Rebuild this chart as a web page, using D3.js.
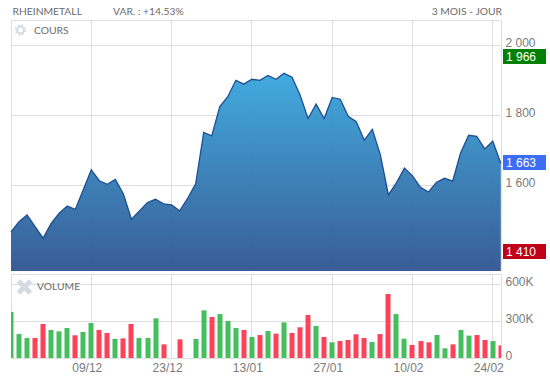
<!DOCTYPE html>
<html lang="fr">
<head>
<meta charset="UTF-8">
<title>Rheinmetall</title>
<script src="https://d3js.org/d3.v7.min.js"></script>
<style>
    html, body { margin: 0; padding: 0; background: #fff; }
    svg { display: block; }
    .head { font: 10.3px Lato, sans-serif; fill: #6b6b6b; }
    .tick text, .axis-label { font: 12px "Liberation Sans", Arial, sans-serif; fill: #7a7a7a; }
    .tag { font: 12px "Liberation Sans", Arial, sans-serif; fill: #fff; }
    .grid line, .frame { stroke: #dedede; stroke-width: 1; fill: none; }
    .domain { display: none; }
</style>
</head>
<body>
<div id="chart"></div>
<script>
// values
const closes = [1467, 1496, 1515, 1482, 1449, 1491, 1520, 1541, 1531, 1587,
    1644, 1613, 1603, 1617, 1575, 1503, 1527, 1551, 1560, 1547,
    1544, 1527, 1563, 1604, 1751, 1741, 1825, 1853, 1900, 1889,
    1903, 1900, 1914, 1903, 1920, 1909, 1858, 1791, 1832, 1791,
    1851, 1846, 1797, 1782, 1729, 1760, 1687, 1573, 1607, 1649,
    1627, 1594, 1581, 1609, 1620, 1612, 1693, 1743, 1740, 1704,
    1726, 1663];
const volumes = [375, 195, 163, 163, 277, 228, 217, 244, 185, 212,
    285, 228, 204, 155, 160, 277, 163, 163, 323, 111,
    null, 152, null, 155, 388, 334, 358, 301, 244, 228,
    171, 187, 220, 198, 290, 204, 250, 350, 261, 171,
    128, 138, 147, 193, 163, 130, 195, 521, 358, 157,
    106, 138, 128, 187, 79, 111, 228, 182, 187, 147,
    138, 103];
// g = hausse, r = baisse
const volumeColors = ['g','g','g','r','r','g','g','g','r','g',
    'g','r','r','g','r','r','g','g','g','r',
    '-','r','-','g','g','r','g','g','g','r',
    'g','r','g','r','g','r','r','r','g','r',
    'g','r','r','r','r','g','r','r','g','g',
    'r','r','r','g','g','r','g','g','r','r',
    'g','r'];
const dateTicks = [10, 20, 30, 40, 50, 60];
const dateLabels = ['09/12', '23/12', '13/01', '27/01', '10/02', '24/02'];
const priceTicks = [1400, 1600, 1800, 2000];
const volumeTicks = [0, 300, 600];
const tags = [
    { value: 1966, text: '1 966', color: '#008000' },
    { value: 1663, text: '1 663', color: '#3c6ef5' },
    { value: 1410, text: '1 410', color: '#c00018' }
];

const width = 550, height = 376;
const left = 11, right = 501;
const priceTop = 20, priceBottom = 271;
const volTop = 274, volBottom = 358;

const svg = d3.select('#chart').append('svg')
    .attr('width', width)
    .attr('height', height);

const x = d3.scaleLinear().domain([0, closes.length - 1]).range([left, right - 0.2]);
const y = d3.scaleLinear().domain([1400, 2000]).range([255.3, 45.3]);
const yVol = d3.scaleLinear().domain([0, 600]).range([volBottom, 284.3]);
const snap = v => Math.floor(v) + 0.5;

const defs = svg.append('defs');
const grad = defs.append('linearGradient')
    .attr('id', 'areaFill')
    .attr('gradientUnits', 'userSpaceOnUse')
    .attr('x1', 0).attr('x2', 0)
    .attr('y1', y(d3.max(closes))).attr('y2', priceBottom);
grad.append('stop').attr('offset', '0%').attr('stop-color', '#38a6dd').attr('stop-opacity', 0.95);
grad.append('stop').attr('offset', '100%').attr('stop-color', '#2f5490').attr('stop-opacity', 0.95);
defs.append('clipPath').attr('id', 'volClip').append('rect')
    .attr('x', left).attr('y', volTop).attr('width', right - left).attr('height', volBottom - volTop);

// vertical grid, both panes
[[priceTop, priceBottom], [volTop, volBottom]].forEach(([t, b]) => {
    svg.append('g').attr('class', 'grid').selectAll('line')
        .data(dateTicks)
        .join('line')
        .attr('x1', d => snap(x(d))).attr('x2', d => snap(x(d)))
        .attr('y1', t).attr('y2', b);
});

// price axis
const priceAxis = d3.axisRight(y)
    .tickValues(priceTicks)
    .tickSize(-(right - left))
    .tickPadding(5)
    .tickFormat(d => d === 1400 ? '' : d3.format(',')(d).replace(',', ' '));
const gPrice = svg.append('g').attr('class', 'grid')
    .attr('transform', `translate(${right},0)`)
    .call(priceAxis);
gPrice.selectAll('.tick').attr('transform', d => `translate(0,${snap(y(d))})`);
gPrice.selectAll('text').attr('x', 4.5).attr('dy', '0.12em');

// volume axis
const volAxis = d3.axisRight(yVol)
    .tickValues(volumeTicks)
    .tickSize(-(right - left))
    .tickFormat(d => d === 0 ? '0' : d + 'K');
const gVol = svg.append('g').attr('class', 'grid')
    .attr('transform', `translate(${right},0)`)
    .call(volAxis);
gVol.selectAll('.tick').attr('transform', d => `translate(0,${snap(yVol(d))})`);
gVol.selectAll('text').attr('x', 4.5).attr('dy', '0.12em');

// frames
svg.append('path').attr('class', 'frame')
    .attr('d', `M${left + 0.5},${priceBottom}V${priceTop + 0.5}H${right + 0.5}V${priceBottom}`);
svg.append('path').attr('class', 'frame')
    .attr('d', `M${left + 0.5},${volBottom}V${volTop + 0.5}H${right + 0.5}V${volBottom}`);

// price area and line
const area = d3.area().x((d, i) => x(i)).y0(priceBottom).y1(d => y(d));
const line = d3.line().x((d, i) => x(i)).y(d => y(d));
svg.append('path').datum(closes).attr('d', area).attr('fill', 'url(#areaFill)');
svg.append('path').datum(closes).attr('d', line)
    .attr('fill', 'none').attr('stroke', '#1d4f91').attr('stroke-width', 1.3);

// volume bars
svg.append('g').attr('clip-path', 'url(#volClip)').selectAll('rect')
    .data(volumes.map((v, i) => ({ v, i })).filter(d => d.v !== null))
    .join('rect')
    .attr('x', d => Math.round(x(d.i)) - 2.5)
    .attr('width', 5)
    .attr('y', d => yVol(d.v))
    .attr('height', d => volBottom - yVol(d.v))
    .attr('fill', d => volumeColors[d.i] === 'g' ? '#35b84f' : '#ff324b')
    .attr('fill-opacity', 0.92);

// date labels
svg.append('g').selectAll('text')
    .data(dateTicks)
    .join('text')
    .attr('class', 'axis-label')
    .attr('x', d => x(d) - 4)
    .attr('y', 372)
    .attr('text-anchor', 'middle')
    .text((d, i) => dateLabels[i]);

// high / last / low tags
const tag = svg.append('g').selectAll('g')
    .data(tags)
    .join('g')
    .attr('transform', d => `translate(503,${Math.round(y(d.value)) - 8})`);
tag.append('rect').attr('width', 43).attr('height', 15).attr('fill', d => d.color);
tag.append('text').attr('class', 'tag').attr('x', 3).attr('y', 12).text(d => d.text);

// header
svg.append('text').attr('class', 'head').attr('x', 12.5).attr('y', 15).text('RHEINMETALL');
svg.append('text').attr('class', 'head').attr('x', 113).attr('y', 15).text('VAR. : +14.53%');
svg.append('text').attr('class', 'head').attr('x', 502).attr('y', 15).attr('text-anchor', 'end').text('3 MOIS - JOUR');
svg.append('text').attr('class', 'head').attr('x', 34).attr('y', 34).text('COURS');
svg.append('text').attr('class', 'head').attr('x', 37).attr('y', 290).text('VOLUME');

// pane icons
const gear = svg.append('g').attr('transform', 'translate(20.5,30)');
gear.append('circle').attr('r', 3.4).attr('fill', 'none').attr('stroke', '#d5dbe3').attr('stroke-width', 2);
gear.append('circle').attr('r', 5).attr('fill', 'none').attr('stroke', '#d5dbe3')
    .attr('stroke-width', 1.4).attr('stroke-dasharray', '2 1.93');
const cross = svg.append('g').attr('transform', 'translate(24.5,287)')
    .attr('stroke', '#d5dae2').attr('stroke-width', 5);
cross.append('line').attr('x1', -6).attr('y1', -6).attr('x2', 6).attr('y2', 6);
cross.append('line').attr('x1', 6).attr('y1', -6).attr('x2', -6).attr('y2', 6);
</script>
</body>
</html>
